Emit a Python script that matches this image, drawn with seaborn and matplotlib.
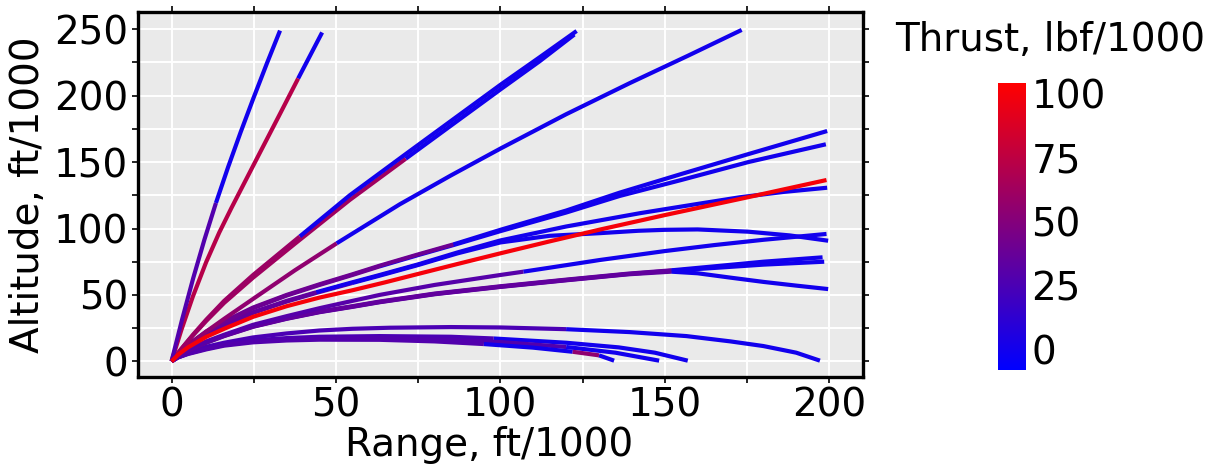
import matplotlib
matplotlib.use("Agg")
import matplotlib.pyplot as plt
from matplotlib.colors import LinearSegmentedColormap, Normalize
from matplotlib.ticker import MultipleLocator
import pandas as pd
import seaborn as sns

# ---------------- data (range ft/1000, altitude ft/1000, thrust lbf/1000 per segment) ----------------
A_x = [0, 3.2, 6.6, 10, 13.5, 17.2, 21, 24.9, 29, 33.0]
A_y = [0, 31.4, 62.7, 91.6, 119.2, 146.2, 172.4, 198.1, 224.3, 249]
A_t = [28, 28, 28, 28, 0, 0, 0, 0, 0, 0]

B_x = [0, 3, 6.5, 10.5, 14.5, 18.2, 26.9, 32.5, 38.5, 45.8]
B_y = [0, 23.7, 48.9, 74.5, 96.9, 115.4, 157.2, 184, 212.9, 247.6]
B_t = [72, 72, 72, 72, 72, 72, 72, 72, 0, 0]

C1_x = [0, 3, 6.5, 10.6, 16, 24.8, 39, 54.2, 71.2, 85, 100.2, 112, 123.2]
C1_y = [0, 9.5, 20, 31.5, 45.5, 65, 94, 125, 156, 181, 208.5, 229, 248.7]
C1_t = [60, 60, 60, 60, 60, 60, 0, 0, 0, 0, 0, 0, 0]

C2_x = [0, 3, 6.5, 10.6, 16, 24.8, 37.5, 54.2, 71.2, 85, 100.2, 112, 122.5]
C2_y = [0, 9.3, 19.5, 30.5, 44, 63, 88.5, 121.5, 152.5, 177.5, 205, 226, 246]
C2_t = [62, 62, 62, 62, 62, 62, 62, 62, 0, 0, 0, 0, 0]

D_x = [0, 3, 6.5, 10.6, 16, 24.8, 37.5, 50.2, 69.4, 85, 100.2, 120, 139.4, 157, 173.4]
D_y = [0, 7, 14.5, 22.5, 32, 47, 68.5, 88.8, 118.2, 140, 160.4, 186, 209.5, 230, 249.5]
D_t = [55, 55, 55, 55, 55, 55, 55, 0, 0, 0, 0, 0, 0, 0, 0]

E1_x = [0, 2, 5, 10.6, 16, 24.8, 35, 45, 55, 63.3, 75, 85.7, 100, 120, 136.3, 155, 175.4, 199.4]
E1_y = [0, 6, 12.5, 22.5, 30, 40.5, 50, 58, 65.5, 72, 80.5, 88, 99, 113.5, 127, 141, 156, 173.4]
E1_t = [40, 40, 40, 40, 40, 40, 40, 40, 40, 40, 40, 0, 0, 0, 0, 0, 0, 0]

E2_x = [0, 2, 5, 10.6, 16, 24.8, 35, 45, 55, 63.3, 75, 85.7, 100, 120, 136.3, 155, 175.4, 199]
E2_y = [0, 5.8, 12.2, 22, 29.5, 40, 49.5, 57.5, 65, 71.5, 80, 87.5, 98, 112, 124.5, 136.5, 150, 163.4]
E2_t = [38, 38, 38, 38, 38, 38, 38, 38, 38, 0, 0, 0, 0, 0, 0, 0, 0, 0]

N_x = [0, 2, 5, 10.6, 16, 24.8, 35, 44, 55, 63.3, 75, 87, 100, 120, 142.4, 160, 172.8, 186, 199.4]
N_y = [0, 5.5, 11.5, 20.5, 27.5, 37, 45.5, 52, 59.5, 65, 73, 82, 91, 101.5, 111.5, 118.5, 123.5, 127.5, 130.7]
N_t = [35, 35, 35, 35, 35, 35, 35, 0, 0, 0, 0, 0, 0, 0, 0, 0, 0, 0, 0]

F_x = [0, 2, 5, 10.6, 16, 24.8, 35, 44, 55, 63.3, 75, 87, 100, 115, 130.3, 142, 150, 160, 175.4, 188, 199.7]
F_y = [0, 5.3, 11.2, 20, 27, 36.5, 45, 51.5, 59, 64.5, 72.5, 81.3, 89.5, 94.5, 96.5, 98.3, 99, 99.3, 97.6, 94.8, 90.8]
F_t = [35, 35, 35, 35, 35, 35, 35, 35, 0, 0, 0, 0, 0, 0, 0, 0, 0, 0, 0, 0, 0]

R_x = [0, 2, 5, 10.6, 16, 24.8, 35, 45, 55, 65, 75, 87, 100, 115, 130.3, 150.2, 175.4, 199.2]
R_y = [0, 5, 10.5, 18.5, 24.5, 33.5, 41.5, 48, 53.5, 59.5, 65.8, 73.3, 81.3, 90.3, 99.2, 110.2, 123.6, 136.5]
R_t = [100] * 18

G_x = [0, 2, 5, 10.6, 16, 24.8, 35, 45, 55, 63.3, 80, 100, 107, 115, 130.3, 150, 165, 180, 199.2]
G_y = [0, 4.5, 9, 15, 20, 27.5, 34, 40, 45.5, 50, 57.5, 65, 67.5, 70.5, 76.3, 83, 87.5, 91.5, 95.9]
G_t = [30, 30, 30, 30, 30, 30, 30, 30, 30, 30, 30, 30, 0, 0, 0, 0, 0, 0, 0]

H1_x = [0, 2, 5, 10.6, 16, 24.8, 35, 45, 55, 63.3, 80, 100, 120, 138.8, 152, 165, 180, 198]
H1_y = [0, 4, 8.5, 14.5, 19.5, 26.5, 32.5, 37.5, 41.5, 45, 51, 56.5, 61.5, 66, 68.5, 71.5, 75, 78.3]
H1_t = [35] * 14 + [0, 0, 0, 0]

H2_x = [0, 2, 5, 10.6, 16, 24.8, 35, 45, 55, 63.3, 80, 100, 120, 138.8, 152, 165, 180, 198.5]
H2_y = [0, 3.9, 8.3, 14.2, 19.2, 26.2, 32.2, 37.2, 41.2, 44.7, 50.7, 56.2, 61.2, 65.7, 68.2, 70.3, 72.8, 75]
H2_t = [34] * 14 + [0, 0, 0, 0]

I_x = [0, 2, 5, 10.6, 16, 24.8, 35, 45, 55, 63.3, 80, 100, 120, 138.8, 152, 160, 170, 180, 190, 199.7]
I_y = [0, 3.8, 8.2, 14, 19, 26, 32, 37, 41, 44.5, 50.5, 56, 61, 65.5, 67.5, 66.3, 63, 59.8, 57, 54.4]
I_t = [33] * 14 + [0, 0, 0, 0, 0, 0]

J_x = [0, 2, 5, 10.6, 16, 24.8, 35, 45, 55, 66.4, 85, 100, 120, 139.4, 156.6, 170, 180, 190, 197.2]
J_y = [0, 3.5, 6.5, 11, 14, 18, 21, 23.2, 24.5, 25.3, 25.8, 25.5, 24.2, 22, 19, 15, 11.5, 6.5, 0.5]
J_t = [25] * 12 + [0] * 7

K_x = [0, 2, 5, 10.6, 16, 24.8, 35, 45, 63.3, 85, 98, 120, 136, 147, 157]
K_y = [0, 3, 6, 10, 13, 15.8, 17.5, 18.5, 19, 18.5, 17.2, 14, 10.5, 6.5, 0.5]
K_t = [25] * 10 + [0] * 5

L_x = [0, 2, 5, 10.6, 16, 24.8, 35, 45, 63.3, 85, 100, 120, 135, 148.3]
L_y = [0, 3, 5.8, 9.5, 12.3, 15, 16.5, 17.2, 17.5, 16.2, 14.5, 10.8, 6.5, 0.5]
L_t = [28] * 11 + [0] * 3

M_x = [0, 2, 5, 10.6, 16, 24.8, 35, 45, 63.3, 80, 95, 110, 122, 130, 134.6]
M_y = [0, 3, 5.5, 9, 11.8, 14.3, 15.7, 16.3, 16.2, 15, 13, 10.3, 7.2, 4.5, 0.5]
M_t = [28, 28, 28, 28, 28, 28, 28, 28, 28, 28, 0, 0, 55, 0, 0]

CBAR_TICKS = [0, 25, 50, 75, 100]
X_TICKS = [0, 50, 100, 150, 200]
Y_TICKS = [0, 50, 100, 150, 200, 250]

TRAJECTORIES = [
    ("J", J_x, J_y, J_t), ("K", K_x, K_y, K_t), ("L", L_x, L_y, L_t), ("M", M_x, M_y, M_t),
    ("I", I_x, I_y, I_t), ("H2", H2_x, H2_y, H2_t), ("H1", H1_x, H1_y, H1_t),
    ("G", G_x, G_y, G_t), ("F", F_x, F_y, F_t), ("N", N_x, N_y, N_t),
    ("E2", E2_x, E2_y, E2_t), ("E1", E1_x, E1_y, E1_t), ("D", D_x, D_y, D_t),
    ("C2", C2_x, C2_y, C2_t), ("C1", C1_x, C1_y, C1_t),
    ("B", B_x, B_y, B_t), ("A", A_x, A_y, A_t), ("R", R_x, R_y, R_t),
]


def to_frame(name, xs, ys, ts):
    recs = []
    run, start, n = 0, 0, len(xs)
    for i in range(1, n):
        if i == n - 1 or ts[i] != ts[start]:
            for j in range(start, i + 1):
                recs.append(dict(x=xs[j], y=ys[j], thrust=ts[start], unit=f"{name}_{run}"))
            run += 1
            start = i
    return pd.DataFrame(recs)


# ---------------- style ----------------
sns.set_theme(style="darkgrid", rc={
    "axes.facecolor": "#EAEAEA",
    "grid.color": "white",
    "grid.linewidth": 1.4,
    "text.color": "black",
    "axes.labelcolor": "black",
    "xtick.color": "black",
    "ytick.color": "black",
})
plt.rcParams["font.family"] = ["DejaVu Sans"]
FS = 28

cmap = LinearSegmentedColormap.from_list("bluered", ["#0000FF", "#FF0000"])
norm = Normalize(vmin=-8, vmax=104)

fig = plt.figure(figsize=(12.18, 4.70), dpi=100)
ax = fig.add_axes([138 / 1218, 1 - 377 / 470, 725 / 1218, 365 / 470])

for name, xs, ys, ts in TRAJECTORIES:
    df = to_frame(name, xs, ys, ts)
    sns.lineplot(data=df, x="x", y="y", hue="thrust", units="unit", estimator=None,
                 sort=False, palette=cmap, hue_norm=norm, legend=False,
                 lw=3, solid_capstyle="butt", ax=ax)

ax.set_xlim(-10.2, 210.3)
ax.set_ylim(-11.8, 263)
ax.set_xticks(X_TICKS)
ax.set_yticks(Y_TICKS)
ax.xaxis.set_minor_locator(MultipleLocator(25))
ax.yaxis.set_minor_locator(MultipleLocator(25))
ax.grid(True, which="both", color="white", lw=1.4)
ax.set_axisbelow(True)
ax.tick_params(which="both", direction="out", length=4, width=1.2, color="black",
               left=True, bottom=True, right=True, top=True, labelsize=FS, pad=3,
               labelcolor="black")
for s in ax.spines.values():
    s.set_visible(True)
    s.set_color("black")
    s.set_linewidth(2.4)
ax.set_xlabel("Range, ft/1000", fontsize=FS, labelpad=1, color="black")
ax.xaxis.label.set_x(0.484)
ax.set_ylabel("Altitude, ft/1000", fontsize=FS, labelpad=5, color="black")

# ---------------- colorbar ----------------
cax = fig.add_axes([998 / 1218, 1 - 370 / 470, 28 / 1218, 287 / 470])
sm = plt.cm.ScalarMappable(norm=norm, cmap=cmap)
cb = fig.colorbar(sm, cax=cax, ticks=CBAR_TICKS)
cb.outline.set_visible(False)
cax.yaxis.set_ticks_position("both")
cax.tick_params(direction="in", length=5, width=1, color="white", labelsize=FS,
                labelleft=False, labelright=True, pad=4, labelcolor="black")
fig.text(1050 / 1218, 1 - 40 / 470, "Thrust, lbf/1000", fontsize=FS, ha="center",
         va="center", color="black")

fig.savefig("out.png", dpi=100)
